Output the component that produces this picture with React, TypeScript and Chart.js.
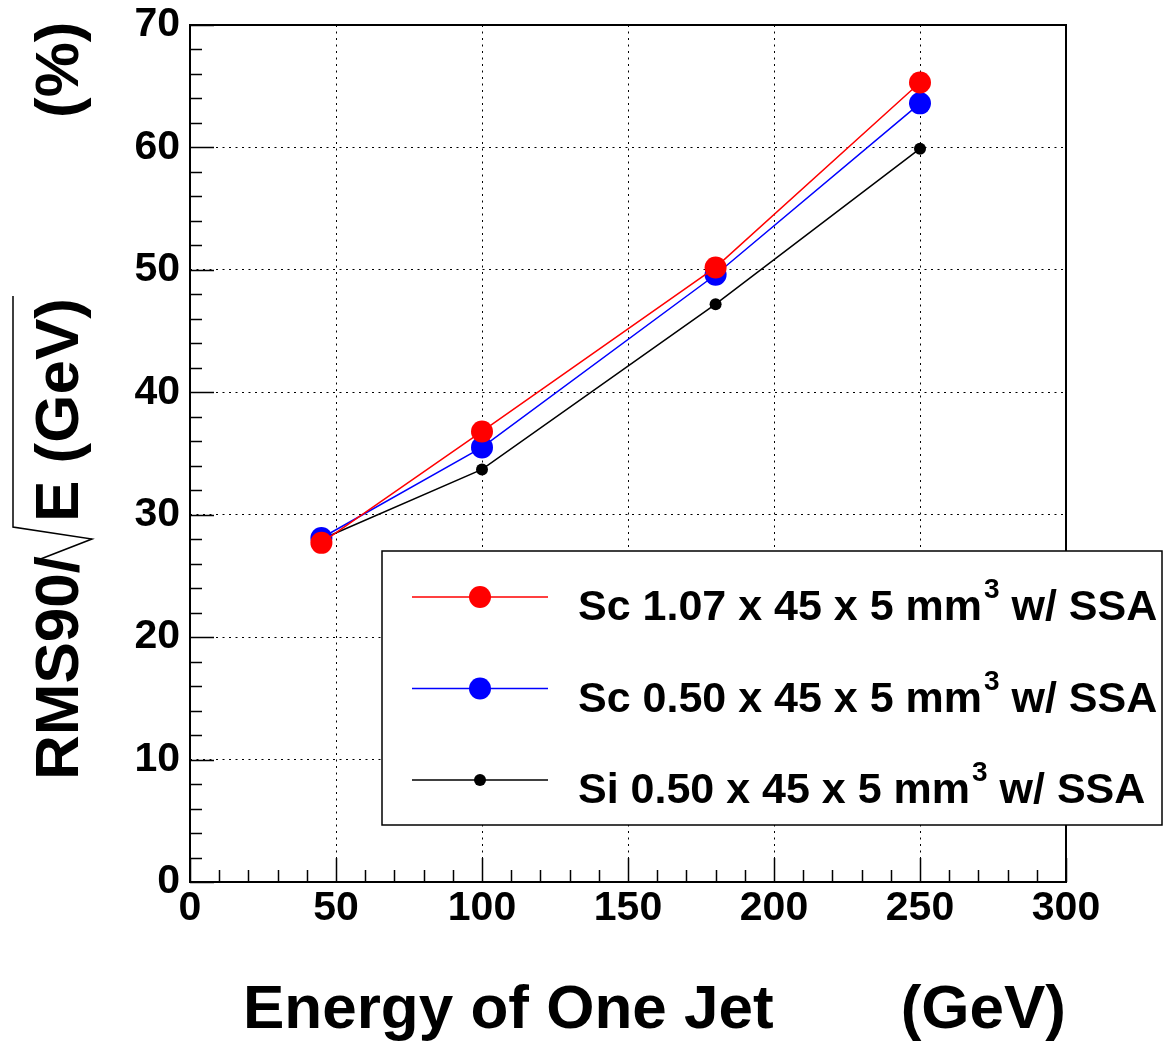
import React, { useEffect, useRef } from "react";
import { Chart, registerables } from "chart.js";

Chart.register(...registerables);

// ---- data ----
const energies = [45, 100, 180, 250];
const scThickValues = [27.7, 36.8, 50.2, 65.3];
const scThinValues = [28.1, 35.5, 49.6, 63.6];
const siValues = [28.0, 33.7, 47.2, 59.9];
const seriesLabels = ["Sc 1.07 x 45 x 5 mm", "Sc 0.50 x 45 x 5 mm", "Si 0.50 x 45 x 5 mm"];
const seriesColors = ["#ff0000", "#0000ff", "#000000"];
const seriesRadius = [11, 11, 6];
const labelSup = "3";
const labelSuffix = " w/ SSA";
const xTitle = "Energy of One Jet";
const xUnit = "(GeV)";
const yTitleA = "RMS90/";
const yTitleB = "E (GeV)";
const yUnit = "(%)";
const xMin = 0, xMax = 300, xStep = 50, xMinor = 10;
const yMin = 0, yMax = 70, yStep = 10, yMinor = 2;

const FONT = '"Liberation Sans", Arial, Helvetica, sans-serif';

const decorPlugin = {
  id: "decor",
  afterDraw(chart: any) {
    const ctx = chart.ctx;
    const { left, right, top, bottom } = chart.chartArea;
    const xs = chart.scales.x;
    const ys = chart.scales.y;
    ctx.save();
    ctx.strokeStyle = "#000";
    ctx.fillStyle = "#000";
    ctx.setLineDash([]);
    // frame
    ctx.lineWidth = 2;
    ctx.strokeRect(left, top, right - left, bottom - top);
    // ticks
    ctx.lineWidth = 1.5;
    ctx.beginPath();
    for (let v = yMin; v <= yMax + 1e-9; v += yMinor) {
      const p = Math.round(ys.getPixelForValue(v)) + 0.5;
      const len = Math.abs(v % yStep) < 1e-6 ? 24 : 12;
      ctx.moveTo(left, p);
      ctx.lineTo(left + len, p);
    }
    for (let v = xMin; v <= xMax + 1e-9; v += xMinor) {
      const p = Math.round(xs.getPixelForValue(v)) + 0.5;
      const len = Math.abs(v % xStep) < 1e-6 ? 24 : 12;
      ctx.moveTo(p, bottom);
      ctx.lineTo(p, bottom - len);
    }
    ctx.stroke();

    // legend box
    const bx = 382, by = 551, bw = 780, bh = 274;
    ctx.fillStyle = "#fff";
    ctx.fillRect(bx, by, bw, bh);
    ctx.strokeStyle = "#000";
    ctx.lineWidth = 1.5;
    ctx.strokeRect(bx, by, bw, bh);
    const rows = [597, 688.5, 780];
    chart.data.datasets.forEach((ds: any, i: number) => {
      const ry = rows[i];
      ctx.strokeStyle = ds.borderColor;
      ctx.lineWidth = 1.5;
      ctx.beginPath();
      ctx.moveTo(412, ry);
      ctx.lineTo(548, ry);
      ctx.stroke();
      ctx.fillStyle = ds.pointBackgroundColor;
      ctx.beginPath();
      ctx.arc(480, ry, ds.pointRadius, 0, Math.PI * 2);
      ctx.fill();
      ctx.fillStyle = "#000";
      ctx.textAlign = "left";
      ctx.textBaseline = "alphabetic";
      ctx.font = `bold 43px ${FONT}`;
      const tx = 578;
      const base = ry + 23;
      ctx.fillText(ds.label, tx, base);
      const w1 = ctx.measureText(ds.label).width;
      ctx.font = `bold 28px ${FONT}`;
      const sx = tx + w1 + 2;
      ctx.fillText(labelSup, sx, base - 22);
      const w2 = ctx.measureText(labelSup).width;
      ctx.font = `bold 43px ${FONT}`;
      ctx.fillText(labelSuffix, sx + w2, base);
    });

    // x title
    ctx.fillStyle = "#000";
    ctx.font = `bold 62px ${FONT}`;
    ctx.textBaseline = "alphabetic";
    ctx.textAlign = "left";
    ctx.fillText(xTitle, 243, 1028);
    ctx.textAlign = "right";
    ctx.fillText(xUnit, 1066, 1028);

    // y title (rotated)
    ctx.save();
    ctx.translate(78, 780);
    ctx.rotate(-Math.PI / 2);
    ctx.textAlign = "left";
    ctx.font = `bold 62px ${FONT}`;
    ctx.fillText(yTitleA, 0, 0);
    const wa = ctx.measureText(yTitleA).width;
    const eStart = wa + 34;
    ctx.fillText(yTitleB, eStart, 0);
    const wb = ctx.measureText(yTitleB).width;
    ctx.strokeStyle = "#000";
    ctx.lineWidth = 1.5;
    ctx.beginPath();
    ctx.moveTo(wa - 4, -40);
    ctx.lineTo(wa + 17, 14);
    ctx.lineTo(wa + 29, -65);
    ctx.lineTo(eStart + wb + 2, -65);
    ctx.stroke();
    ctx.fillText(yUnit, 662, 0);
    ctx.restore();

    ctx.restore();
  },
};

export default function App() {
  const ref = useRef<HTMLCanvasElement | null>(null);
  useEffect(() => {
    if (!ref.current) return;
    const valueSets = [scThickValues, scThinValues, siValues];
    const datasets = valueSets.map((vals, i) => ({
      label: seriesLabels[i],
      data: energies.map((e, j) => ({ x: e, y: vals[j] })),
      borderColor: seriesColors[i],
      backgroundColor: seriesColors[i],
      pointBackgroundColor: seriesColors[i],
      pointBorderColor: seriesColors[i],
      pointBorderWidth: 0,
      pointRadius: seriesRadius[i],
      borderWidth: 1.5,
      showLine: true,
      tension: 0,
    }));
    const tickFont = { family: FONT, size: 41, weight: "bold" as const };
    const chart = new Chart(ref.current, {
      type: "scatter",
      data: { datasets },
      options: {
        animation: false,
        responsive: false,
        devicePixelRatio: 1,
        layout: { padding: { top: 25, right: 99, left: 0, bottom: 0 } },
        plugins: { legend: { display: false }, tooltip: { enabled: false } },
        scales: {
          x: {
            type: "linear",
            min: xMin,
            max: xMax,
            afterFit: (s: any) => { s.height = 159; s.paddingLeft = 0; s.paddingRight = 0; },
            ticks: { stepSize: xStep, color: "#000", font: tickFont, padding: 2, maxRotation: 0, autoSkip: false },
            grid: { color: "#000", lineWidth: 1, drawTicks: false },
            border: { display: false, dash: [2, 4.5] },
          },
          y: {
            type: "linear",
            min: yMin,
            max: yMax,
            afterFit: (s: any) => { s.width = 190; s.paddingTop = 0; s.paddingBottom = 0; },
            ticks: { stepSize: yStep, color: "#000", font: tickFont, padding: 10, autoSkip: false },
            grid: { color: "#000", lineWidth: 1, drawTicks: false },
            border: { display: false, dash: [2, 4.5] },
          },
        },
      },
      plugins: [decorPlugin],
    } as any);
    return () => chart.destroy();
  }, []);
  return (
    <div style={{ position: "fixed", left: 0, top: 0, width: 1165, height: 1041, background: "#fff" }}>
      <canvas ref={ref} width={1165} height={1041} style={{ width: 1165, height: 1041 }} />
    </div>
  );
}
